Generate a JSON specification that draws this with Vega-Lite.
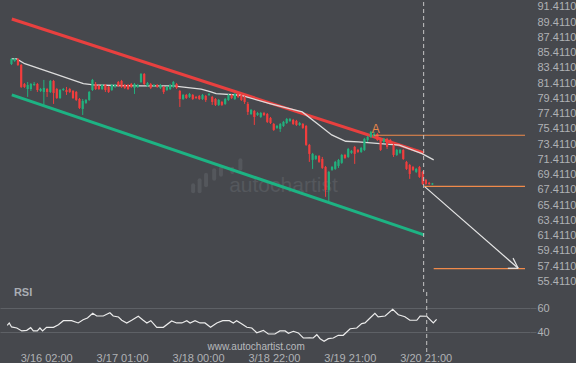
{
  "$schema": "https://vega.github.io/schema/vega-lite/v6.json",
  "background": "#46484d",
  "padding": 0,
  "spacing": 0,
  "bounds": "flush",
  "config": {
    "view": {"stroke": null},
    "axis": {"labelFont": "Liberation Sans", "labelFontSize": 11, "labelColor": "#b0b2b5", "domain": false, "ticks": false, "grid": false, "labelOverlap": false}
  },
  "datasets": {
    "candles": [
      {"i":2,"o":83.93,"h":84.72,"l":83.80,"c":84.59},{"i":3,"o":84.33,"h":84.72,"l":84.20,"c":84.59},{"i":4,"o":84.59,"h":84.72,"l":83.67,"c":83.80},{"i":5,"o":83.80,"h":83.93,"l":80.79,"c":80.92},{"i":6,"o":81.31,"h":81.44,"l":80.79,"c":80.92},{"i":7,"o":80.65,"h":81.57,"l":79.61,"c":81.18},{"i":8,"o":80.65,"h":81.44,"l":80.39,"c":81.31},{"i":9,"o":81.18,"h":81.57,"l":81.05,"c":81.31},{"i":10,"o":81.31,"h":81.44,"l":80.26,"c":80.52},{"i":11,"o":80.39,"h":80.79,"l":80.26,"c":80.65},{"i":12,"o":80.26,"h":81.84,"l":78.56,"c":80.79},{"i":13,"o":80.65,"h":80.79,"l":79.61,"c":80.26},{"i":14,"o":80.26,"h":81.84,"l":80.13,"c":81.70},{"i":15,"o":81.70,"h":81.84,"l":78.69,"c":80.13},{"i":16,"o":80.65,"h":80.79,"l":79.34,"c":79.47},{"i":17,"o":79.47,"h":80.65,"l":79.34,"c":80.52},{"i":18,"o":80.52,"h":80.79,"l":80.39,"c":80.65},{"i":19,"o":80.52,"h":80.92,"l":79.87,"c":80.26},{"i":20,"o":80.65,"h":80.79,"l":80.13,"c":80.26},{"i":21,"o":80.39,"h":80.52,"l":79.34,"c":79.47},{"i":22,"o":80.26,"h":80.39,"l":79.08,"c":79.21},{"i":23,"o":79.34,"h":79.47,"l":78.03,"c":78.16},{"i":24,"o":78.03,"h":79.34,"l":77.24,"c":79.08},{"i":25,"o":78.82,"h":79.34,"l":78.69,"c":79.21},{"i":26,"o":79.21,"h":80.39,"l":79.08,"c":80.26},{"i":27,"o":80.52,"h":81.97,"l":80.39,"c":81.84},{"i":28,"o":81.31,"h":81.57,"l":80.52,"c":80.65},{"i":29,"o":81.05,"h":81.18,"l":80.52,"c":80.65},{"i":30,"o":80.65,"h":81.31,"l":80.52,"c":81.18},{"i":31,"o":81.18,"h":81.31,"l":80.26,"c":80.52},{"i":32,"o":80.92,"h":81.05,"l":80.13,"c":80.26},{"i":33,"o":80.52,"h":81.31,"l":80.39,"c":81.18},{"i":34,"o":81.05,"h":81.31,"l":80.79,"c":81.18},{"i":35,"o":81.57,"h":81.70,"l":80.92,"c":81.05},{"i":36,"o":81.70,"h":81.84,"l":80.79,"c":80.92},{"i":37,"o":81.18,"h":81.31,"l":80.65,"c":80.79},{"i":38,"o":81.18,"h":81.31,"l":80.52,"c":80.65},{"i":39,"o":81.31,"h":81.44,"l":80.79,"c":80.92},{"i":40,"o":80.79,"h":81.44,"l":80.00,"c":81.31},{"i":41,"o":80.92,"h":81.31,"l":80.79,"c":81.18},{"i":42,"o":81.57,"h":82.75,"l":81.44,"c":82.62},{"i":43,"o":82.62,"h":82.75,"l":81.18,"c":81.31},{"i":44,"o":81.05,"h":81.57,"l":80.92,"c":81.44},{"i":45,"o":81.31,"h":81.44,"l":80.65,"c":80.79},{"i":46,"o":81.05,"h":81.31,"l":80.92,"c":81.18},{"i":47,"o":81.18,"h":81.31,"l":80.79,"c":80.92},{"i":48,"o":80.79,"h":81.31,"l":80.65,"c":81.18},{"i":49,"o":80.92,"h":81.05,"l":80.00,"c":80.26},{"i":50,"o":80.52,"h":81.05,"l":80.39,"c":80.92},{"i":51,"o":80.65,"h":81.31,"l":80.52,"c":81.18},{"i":52,"o":80.92,"h":81.70,"l":80.79,"c":81.57},{"i":53,"o":81.31,"h":81.44,"l":80.65,"c":80.79},{"i":54,"o":80.39,"h":80.52,"l":78.29,"c":79.34},{"i":55,"o":79.34,"h":80.00,"l":79.21,"c":79.87},{"i":56,"o":79.87,"h":80.00,"l":79.34,"c":79.47},{"i":57,"o":79.61,"h":80.13,"l":79.47,"c":80.00},{"i":58,"o":79.87,"h":80.00,"l":79.21,"c":79.34},{"i":59,"o":79.61,"h":79.74,"l":79.34,"c":79.47},{"i":60,"o":79.74,"h":79.87,"l":79.21,"c":79.34},{"i":61,"o":79.34,"h":80.00,"l":79.21,"c":79.87},{"i":62,"o":79.74,"h":79.87,"l":78.95,"c":79.21},{"i":63,"o":79.87,"h":80.13,"l":79.74,"c":80.00},{"i":64,"o":79.61,"h":79.74,"l":78.56,"c":78.95},{"i":65,"o":79.34,"h":79.47,"l":78.42,"c":78.56},{"i":66,"o":78.56,"h":79.34,"l":78.42,"c":79.21},{"i":67,"o":78.95,"h":79.08,"l":78.42,"c":78.56},{"i":68,"o":78.69,"h":79.47,"l":78.56,"c":79.34},{"i":69,"o":79.21,"h":80.00,"l":79.08,"c":79.87},{"i":70,"o":79.87,"h":80.00,"l":79.34,"c":79.47},{"i":71,"o":79.34,"h":80.13,"l":79.21,"c":80.00},{"i":72,"o":80.00,"h":80.13,"l":79.47,"c":79.61},{"i":73,"o":79.87,"h":80.00,"l":79.08,"c":79.21},{"i":74,"o":79.61,"h":79.74,"l":78.69,"c":78.95},{"i":75,"o":78.69,"h":78.95,"l":77.24,"c":77.64},{"i":76,"o":77.37,"h":78.03,"l":77.24,"c":77.90},{"i":77,"o":77.77,"h":77.90,"l":75.93,"c":76.98},{"i":78,"o":77.24,"h":77.64,"l":77.11,"c":77.50},{"i":79,"o":76.98,"h":77.64,"l":76.85,"c":77.50},{"i":80,"o":77.50,"h":77.64,"l":77.11,"c":77.24},{"i":81,"o":77.37,"h":77.50,"l":76.19,"c":76.33},{"i":82,"o":76.85,"h":76.98,"l":76.06,"c":76.19},{"i":83,"o":76.06,"h":76.19,"l":75.15,"c":75.28},{"i":84,"o":75.54,"h":75.93,"l":75.41,"c":75.80},{"i":85,"o":75.41,"h":76.19,"l":75.01,"c":76.06},{"i":86,"o":75.80,"h":76.46,"l":75.67,"c":76.33},{"i":87,"o":76.19,"h":76.85,"l":76.06,"c":76.72},{"i":88,"o":76.46,"h":76.85,"l":76.33,"c":76.72},{"i":89,"o":76.59,"h":76.72,"l":75.93,"c":76.06},{"i":90,"o":76.46,"h":76.59,"l":75.80,"c":75.93},{"i":91,"o":75.93,"h":76.33,"l":75.80,"c":76.19},{"i":92,"o":76.06,"h":76.19,"l":75.41,"c":75.54},{"i":93,"o":75.80,"h":75.93,"l":73.18,"c":73.31},{"i":94,"o":73.31,"h":73.44,"l":71.08,"c":72.13},{"i":95,"o":71.34,"h":72.26,"l":70.16,"c":72.13},{"i":96,"o":71.47,"h":71.99,"l":71.34,"c":71.86},{"i":97,"o":71.86,"h":71.99,"l":70.95,"c":71.08},{"i":98,"o":71.47,"h":71.73,"l":70.16,"c":70.29},{"i":99,"o":70.42,"h":70.55,"l":66.49,"c":67.40},{"i":100,"o":67.40,"h":69.90,"l":65.83,"c":69.77},{"i":101,"o":70.03,"h":70.55,"l":69.90,"c":70.42},{"i":102,"o":70.16,"h":71.21,"l":70.03,"c":71.08},{"i":103,"o":70.55,"h":71.47,"l":70.29,"c":71.34},{"i":104,"o":70.95,"h":72.13,"l":70.82,"c":71.99},{"i":105,"o":71.99,"h":72.13,"l":71.47,"c":71.60},{"i":106,"o":71.73,"h":72.92,"l":71.60,"c":72.78},{"i":107,"o":72.26,"h":72.65,"l":72.13,"c":72.52},{"i":108,"o":73.05,"h":73.18,"l":70.82,"c":72.13},{"i":109,"o":72.65,"h":72.78,"l":72.26,"c":72.39},{"i":110,"o":72.39,"h":73.05,"l":72.26,"c":72.92},{"i":111,"o":72.65,"h":74.23,"l":72.52,"c":74.10},{"i":112,"o":73.96,"h":74.49,"l":73.70,"c":74.36},{"i":113,"o":74.36,"h":75.15,"l":74.23,"c":75.01},{"i":114,"o":74.49,"h":75.01,"l":74.36,"c":74.75},{"i":115,"o":74.75,"h":74.88,"l":73.83,"c":73.96},{"i":116,"o":74.10,"h":74.23,"l":72.52,"c":72.65},{"i":117,"o":73.70,"h":74.23,"l":73.57,"c":74.10},{"i":118,"o":74.10,"h":74.23,"l":72.78,"c":73.05},{"i":119,"o":73.96,"h":74.10,"l":73.44,"c":73.57},{"i":120,"o":73.31,"h":73.44,"l":71.73,"c":71.99},{"i":121,"o":71.99,"h":72.78,"l":71.86,"c":72.65},{"i":122,"o":72.26,"h":72.78,"l":72.13,"c":72.65},{"i":123,"o":72.65,"h":72.78,"l":71.34,"c":71.47},{"i":124,"o":71.08,"h":71.21,"l":70.03,"c":70.16},{"i":125,"o":70.68,"h":70.82,"l":68.85,"c":69.50},{"i":126,"o":70.42,"h":70.55,"l":69.90,"c":70.03},{"i":127,"o":69.77,"h":70.29,"l":69.63,"c":70.16},{"i":128,"o":70.42,"h":70.55,"l":68.98,"c":69.11},{"i":129,"o":69.77,"h":69.90,"l":68.06,"c":68.19},{"i":130,"o":68.72,"h":68.85,"l":68.06,"c":68.19},{"i":131,"o":68.32,"h":68.45,"l":68.06,"c":68.19},{"i":132,"o":68.12,"h":68.32,"l":68.06,"c":68.25}
    ],
    "ma": [
      {"i":2.1,"v":84.59},{"i":3.6,"v":84.59},{"i":6.1,"v":83.97},{"i":15.2,"v":82.66},{"i":24.2,"v":81.35},{"i":27.3,"v":81.18},{"i":33.3,"v":81.11},{"i":42.4,"v":81.05},{"i":52.1,"v":81.05},{"i":54.5,"v":80.92},{"i":60.6,"v":80.62},{"i":63.6,"v":80.26},{"i":65.2,"v":80.04},{"i":72.7,"v":79.83},{"i":81.8,"v":78.74},{"i":91.8,"v":77.64},{"i":97,"v":75.93},{"i":100.9,"v":74.62},{"i":105.2,"v":73.79},{"i":109.1,"v":73.70},{"i":115.8,"v":73.48},{"i":121.8,"v":73.27},{"i":128.8,"v":72.17},{"i":132.4,"v":71.34}
    ],
    "upper": [{"i":2.1,"v":89.84},{"i":129.4,"v":72.25}],
    "lower": [{"i":2.1,"v":79.87},{"i":129.4,"v":61.50}],
    "levels": [
      {"a":114,"b":160.6,"v":74.58},
      {"a":129.4,"b":160.6,"v":67.88},
      {"a":132.4,"b":160.6,"v":57.07}
    ],
    "arrow": [
      {"seg":"m","i":129.7,"v":67.80},{"seg":"m","i":158.5,"v":57.12},
      {"seg":"a","i":155.3,"v":57.12},{"seg":"a","i":158.5,"v":57.12},
      {"seg":"b","i":156.9,"v":58.45},{"seg":"b","i":158.5,"v":57.12}
    ],
    "wm": [
      {"i":58.1,"lo":67.22,"hi":68.01},{"i":60.1,"lo":67.22,"hi":68.67},{"i":62.1,"lo":68.01,"hi":69.40},{"i":64.6,"lo":68.88,"hi":69.98},{"i":66.7,"lo":69.40,"hi":70.28},{"i":70.2,"lo":69.76,"hi":70.19},{"i":72.7,"lo":70.19,"hi":71.29}
    ],
    "rsi": [
      {"i":2.2,"v":45.7},{"i":2.8,"v":47.7},{"i":3.5,"v":44.3},{"i":5.1,"v":43.4},{"i":6.6,"v":40.9},{"i":8.1,"v":41.4},{"i":9.3,"v":43.7},{"i":10.1,"v":40.9},{"i":11.3,"v":40.9},{"i":12.1,"v":43.4},{"i":12.9,"v":40.9},{"i":14.1,"v":44.0},{"i":16.2,"v":44.0},{"i":17.7,"v":46.2},{"i":19.2,"v":49.6},{"i":21.7,"v":49.6},{"i":23.7,"v":47.7},{"i":25.2,"v":50.5},{"i":26.5,"v":51.9},{"i":28.1,"v":55.9},{"i":29.3,"v":53.6},{"i":31.3,"v":53.6},{"i":33.3,"v":56.4},{"i":34.3,"v":53.6},{"i":35.9,"v":52.8},{"i":36.9,"v":50.0},{"i":38.4,"v":47.7},{"i":39.9,"v":50.0},{"i":41.9,"v":53.4},{"i":43.4,"v":50.0},{"i":44.5,"v":47.7},{"i":45.7,"v":49.6},{"i":47.5,"v":44.0},{"i":49.5,"v":44.0},{"i":52.0,"v":49.4},{"i":53.5,"v":47.7},{"i":55.1,"v":47.7},{"i":56.6,"v":49.6},{"i":57.6,"v":47.7},{"i":59.1,"v":49.6},{"i":60.6,"v":47.7},{"i":62.1,"v":47.7},{"i":63.8,"v":44.0},{"i":65.7,"v":47.7},{"i":67.5,"v":49.6},{"i":69.5,"v":49.6},{"i":70.7,"v":47.7},{"i":71.7,"v":49.6},{"i":73.2,"v":47.1},{"i":74.8,"v":44.0},{"i":76.3,"v":43.4},{"i":77.8,"v":39.4},{"i":79.8,"v":41.4},{"i":81.3,"v":38.3},{"i":83.3,"v":38.3},{"i":84.8,"v":40.9},{"i":86.4,"v":40.9},{"i":87.4,"v":38.9},{"i":88.9,"v":40.6},{"i":90.4,"v":39.2},{"i":91.9,"v":34.9},{"i":93.9,"v":35.1},{"i":94.9,"v":34.9},{"i":96.0,"v":37.7},{"i":97.0,"v":34.3},{"i":98.2,"v":32.1},{"i":99.5,"v":34.3},{"i":101.0,"v":34.9},{"i":102.5,"v":37.2},{"i":104.0,"v":37.2},{"i":106.1,"v":42.8},{"i":108.1,"v":43.4},{"i":109.6,"v":47.1},{"i":110.6,"v":47.7},{"i":111.9,"v":51.3},{"i":113.6,"v":55.9},{"i":114.6,"v":52.8},{"i":116.7,"v":53.6},{"i":119.0,"v":59.3},{"i":120.7,"v":54.7},{"i":122.7,"v":53.0},{"i":124.2,"v":50.0},{"i":126.3,"v":50.0},{"i":127.3,"v":53.6},{"i":129.3,"v":53.4},{"i":131.3,"v":47.7},{"i":132.3,"v":50.8}
    ],
    "now": [{"i":129.3}],
    "labelsA": [{"i":114.5,"v":75.45,"t":"A"}],
    "wmtext": [{"i":86,"v":67.95,"t":"autochartist"}],
    "rsitext": [{"i":7,"v":73.2,"t":"RSI"}],
    "site": [{"i":77.6,"v":27.5,"t":"www.autochartist.com"}]
  },
  "vconcat": [
    {
      "width": 530,
      "height": 290,
      "layer": [
        {
          "data": {"name": "wm"},
          "mark": {"type": "rule", "strokeWidth": 4, "strokeCap": "round", "color": "#54575c"},
          "encoding": {
            "x": {"field": "i", "type": "quantitative", "scale": {"domain": [0, 160.6], "nice": false, "zero": false}, "axis": null},
            "y": {"field": "lo", "type": "quantitative", "title": null, "scale": {"domain": [54.005, 92.067], "nice": false, "zero": false},
                  "axis": {"orient": "right", "title": null, "values": [55.411,57.411,59.411,61.411,63.411,65.411,67.411,69.411,71.411,73.411,75.411,77.411,79.411,81.411,83.411,85.411,87.411,89.411,91.411], "tickCount": 40, "format": ".4f", "labelPadding": 7, "labelOverlap": false}},
            "y2": {"field": "hi"}
          }
        },
        {
          "data": {"name": "wmtext"},
          "mark": {"type": "text", "font": "Liberation Sans", "fontSize": 21, "color": "#55585d", "baseline": "middle", "align": "center"},
          "encoding": {
            "x": {"field": "i", "type": "quantitative", "axis": null},
            "y": {"field": "v", "type": "quantitative", "title": null},
            "text": {"field": "t"}
          }
        },
        {
          "data": {"name": "upper"},
          "mark": {"type": "line", "color": "#e8403f", "strokeWidth": 3},
          "encoding": {
            "x": {"field": "i", "type": "quantitative", "axis": null},
            "y": {"field": "v", "type": "quantitative", "title": null}
          }
        },
        {
          "data": {"name": "lower"},
          "mark": {"type": "line", "color": "#1db383", "strokeWidth": 3},
          "encoding": {
            "x": {"field": "i", "type": "quantitative", "axis": null},
            "y": {"field": "v", "type": "quantitative", "title": null}
          }
        },
        {
          "data": {"name": "ma"},
          "mark": {"type": "line", "color": "#dcdcdc", "strokeWidth": 1.3},
          "encoding": {
            "x": {"field": "i", "type": "quantitative", "axis": null},
            "y": {"field": "v", "type": "quantitative", "title": null}
          }
        },
        {
          "data": {"name": "candles"},
          "mark": {"type": "rule", "strokeWidth": 1},
          "encoding": {
            "x": {"field": "i", "type": "quantitative", "axis": null},
            "y": {"field": "l", "type": "quantitative", "title": null},
            "y2": {"field": "h"},
            "color": {"condition": {"test": "datum.c >= datum.o", "value": "#22b07d"}, "value": "#f23d3d"}
          }
        },
        {
          "data": {"name": "candles"},
          "mark": {"type": "bar", "size": 2.2},
          "encoding": {
            "x": {"field": "i", "type": "quantitative", "axis": null},
            "y": {"field": "o", "type": "quantitative", "title": null},
            "y2": {"field": "c"},
            "color": {"condition": {"test": "datum.c >= datum.o", "value": "#22b07d"}, "value": "#f23d3d"}
          }
        },
        {
          "data": {"name": "levels"},
          "mark": {"type": "rule", "color": "#f08a4b", "strokeWidth": 1.2},
          "encoding": {
            "x": {"field": "a", "type": "quantitative", "axis": null},
            "x2": {"field": "b"},
            "y": {"field": "v", "type": "quantitative", "title": null}
          }
        },
        {
          "data": {"name": "now"},
          "mark": {"type": "rule", "color": "#c4c4c4", "strokeWidth": 1, "strokeDash": [4, 3]},
          "encoding": {
            "x": {"field": "i", "type": "quantitative", "axis": null}
          }
        },
        {
          "data": {"name": "arrow"},
          "mark": {"type": "line", "color": "#e6e6e6", "strokeWidth": 1.2},
          "encoding": {
            "x": {"field": "i", "type": "quantitative", "axis": null},
            "y": {"field": "v", "type": "quantitative", "title": null},
            "detail": {"field": "seg"}
          }
        },
        {
          "data": {"name": "labelsA"},
          "mark": {"type": "text", "font": "Liberation Sans", "fontSize": 12, "color": "#e8874a", "baseline": "middle", "align": "center"},
          "encoding": {
            "x": {"field": "i", "type": "quantitative", "axis": null},
            "y": {"field": "v", "type": "quantitative", "title": null},
            "text": {"field": "t"}
          }
        }
      ]
    },
    {
      "width": 530,
      "height": 60,
      "layer": [
        {
          "data": {"name": "rsi"},
          "mark": {"type": "line", "color": "#ececec", "strokeWidth": 1.2},
          "encoding": {
            "x": {"field": "i", "type": "quantitative", "title": null, "scale": {"domain": [0, 160.6], "nice": false, "zero": false},
                  "axis": {"title": null, "values": [14, 37, 60, 83, 106, 129], "tickCount": 20, "labelPadding": 0, "labelExpr": "datum.value == 14 ? '3/16 02:00' : datum.value == 37 ? '3/17 01:00' : datum.value == 60 ? '3/18 00:00' : datum.value == 83 ? '3/18 22:00' : datum.value == 106 ? '3/19 21:00' : '3/20 21:00'"}},
            "y": {"field": "v", "type": "quantitative", "title": null, "scale": {"domain": [22.98, 74.04], "nice": false, "zero": false},
                  "axis": {"orient": "right", "title": null, "values": [40, 60], "tickCount": 5, "grid": true, "gridColor": "#5e6166", "ticks": true, "tickSize": 6, "tickColor": "#5e6166", "labelPadding": 1}}
          }
        },
        {
          "data": {"name": "now"},
          "mark": {"type": "rule", "color": "#c4c4c4", "strokeWidth": 1, "strokeDash": [4, 3]},
          "encoding": {
            "x": {"field": "i", "type": "quantitative", "title": null}
          }
        },
        {
          "data": {"name": "rsitext"},
          "mark": {"type": "text", "font": "Liberation Sans", "fontSize": 11, "fontWeight": "bold", "color": "#a9adb4", "baseline": "middle", "align": "center"},
          "encoding": {
            "x": {"field": "i", "type": "quantitative", "title": null},
            "y": {"field": "v", "type": "quantitative", "title": null},
            "text": {"field": "t"}
          }
        },
        {
          "data": {"name": "site"},
          "mark": {"type": "text", "font": "Liberation Sans", "fontSize": 10, "color": "#b8babd", "baseline": "middle", "align": "center", "letterSpacing": 0.6},
          "encoding": {
            "x": {"field": "i", "type": "quantitative", "title": null},
            "y": {"field": "v", "type": "quantitative", "title": null},
            "text": {"field": "t"}
          }
        }
      ]
    }
  ]
}
